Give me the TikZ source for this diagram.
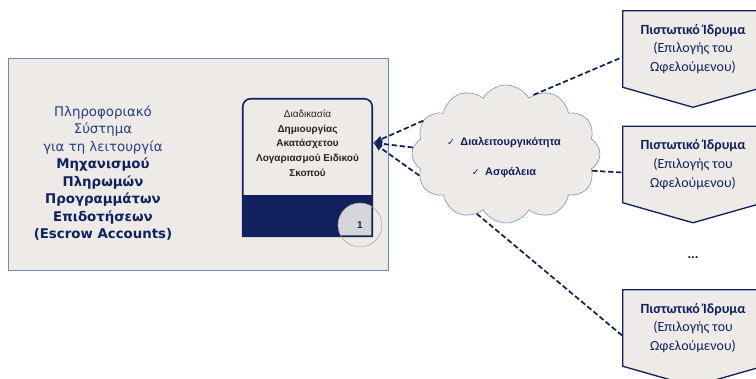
\documentclass[tikz,border=0pt]{standalone}
\usepackage{fontspec}
\setmainfont{DejaVu Sans}
\newfontfamily\narrowfont{Liberation Sans}
\newfontfamily\bankfont{Carlito}
\usepackage{tikz}
\usetikzlibrary{arrows,shapes,positioning,calc,backgrounds}
\usepackage{xcolor}
\definecolor{navy}{RGB}{16,33,94}
\definecolor{textblue}{RGB}{40,64,128}
\definecolor{panel}{RGB}{237,234,231}
\definecolor{edge}{RGB}{110,135,185}
\definecolor{badge}{RGB}{214,214,218}

\begin{document}
\begin{tikzpicture}[x=0.75pt, y=-0.75pt,
    bank/.style={minimum width=105pt, minimum height=57pt, inner sep=0pt,
                 align=center, text=navy, font=\bankfont\fontsize{10.5}{14}\selectfont},
    chev/.style={draw=navy, line width=1pt, fill=panel},
    link/.style={navy, line width=1.3pt, dash pattern=on 4pt off 2pt},
    cloudtxt/.style={text=navy, font=\narrowfont\fontsize{8.2}{10}\selectfont\bfseries}
  ]
    \useasboundingbox (0,0) rectangle (756,378);

    % left panel
    \node[draw=edge, fill=panel, minimum width=285pt, minimum height=159pt, inner sep=0pt] (panel) at (198,164) {};
    \node[align=center, text=textblue, font=\fontsize{10}{13.1}\selectfont] (info) at (103,173)
      {Πληροφοριακό\\Σύστημα\\για τη λειτουργία\\
       \textbf{\color{navy}Μηχανισμού}\\\textbf{\color{navy}Πληρωμών}\\
       \textbf{\color{navy}Προγραμμάτων}\\\textbf{\color{navy}Επιδοτήσεων}\\
       \textbf{\color{navy}(Escrow Accounts)}};

    % process box
    \node[minimum width=96.75pt, minimum height=102.75pt, inner sep=0pt] (proc) at (307.5,167.5) {};
    \fill[panel] (proc.south west) rectangle (proc.north east);
    \fill[navy] (proc.south west) rectangle ($(proc.south east)+(0,-41)$);
    \begin{scope}
      \clip (proc.south west) rectangle (proc.north east);
      \fill[badge] (360,225) circle (22);
    \end{scope}
    \draw[navy, line width=1.2pt] (proc.south west) [rounded corners=6pt] -- (proc.north west)
      -- (proc.north east) [sharp corners] -- (proc.south east) -- cycle;
    \node[align=center, text=black!85, font=\narrowfont\fontsize{7.5}{11}\selectfont] (proclabel) at (307.5,143)
      {Διαδικασία\\\textbf{Δημιουργίας}\\\textbf{Ακατάσχετου}\\\textbf{Λογαριασμού Ειδικού}\\\textbf{Σκοπού}};
    \node[circle, draw=gray!70, minimum size=33pt, inner sep=0pt, text=navy,
          font=\narrowfont\fontsize{7.5}{9}\selectfont\bfseries] (step1) at (360,225) {1};
    \coordinate (tip) at ($(proc.north east)+(1,44)$);

    % cloud
    \node[cloud, cloud puffs=12, cloud puff arc=120, aspect=1.36, draw=edge, fill=panel,
          minimum width=141pt, minimum height=103.5pt, inner sep=0pt] (cl) at (506,154) {};
    \node[cloudtxt] (interop) at (504,143) {{\normalfont\fontsize{7}{9}\selectfont ✓}\enspace Διαλειτουργικότητα};
    \node[cloudtxt] (security) at (504,173) {{\normalfont\fontsize{7}{9}\selectfont ✓}\enspace Ασφάλεια};

    % banks
    \node[bank] (b1) at (693,49) {\textbf{Πιστωτικό Ίδρυμα}\\(Επιλογής του\\Ωφελούμενου)};
    \node[bank] (b2) at (693,164.5) {\textbf{Πιστωτικό Ίδρυμα}\\(Επιλογής του\\Ωφελούμενου)};
    \node[bank] (b3) at (693,328) {\textbf{Πιστωτικό Ίδρυμα}\\(Επιλογής του\\Ωφελούμενου)};
    \node[text=black, font=\bankfont\bfseries] (dots) at (693,258) {...};
    \begin{scope}[on background layer]
      \foreach \b in {b1,b2,b3}
        \draw[chev] (\b.north west) -- (\b.north east) -- (\b.south east)
          -- ($(\b.south)+(0,20)$) -- (\b.south west) -- cycle;
    \end{scope}

    \foreach \a in {158,176,194}
      \draw[link, -latex] (cl.\a) -- (tip);
    \draw[link] (cl.65) -- ([yshift=-6pt]b1.west);
    \draw[link] (cl.-11) -- ([yshift=-6pt]b2.west);
    \draw[link] (cl.244) -- ([yshift=-6pt]b3.west);
\end{tikzpicture}
\end{document}
